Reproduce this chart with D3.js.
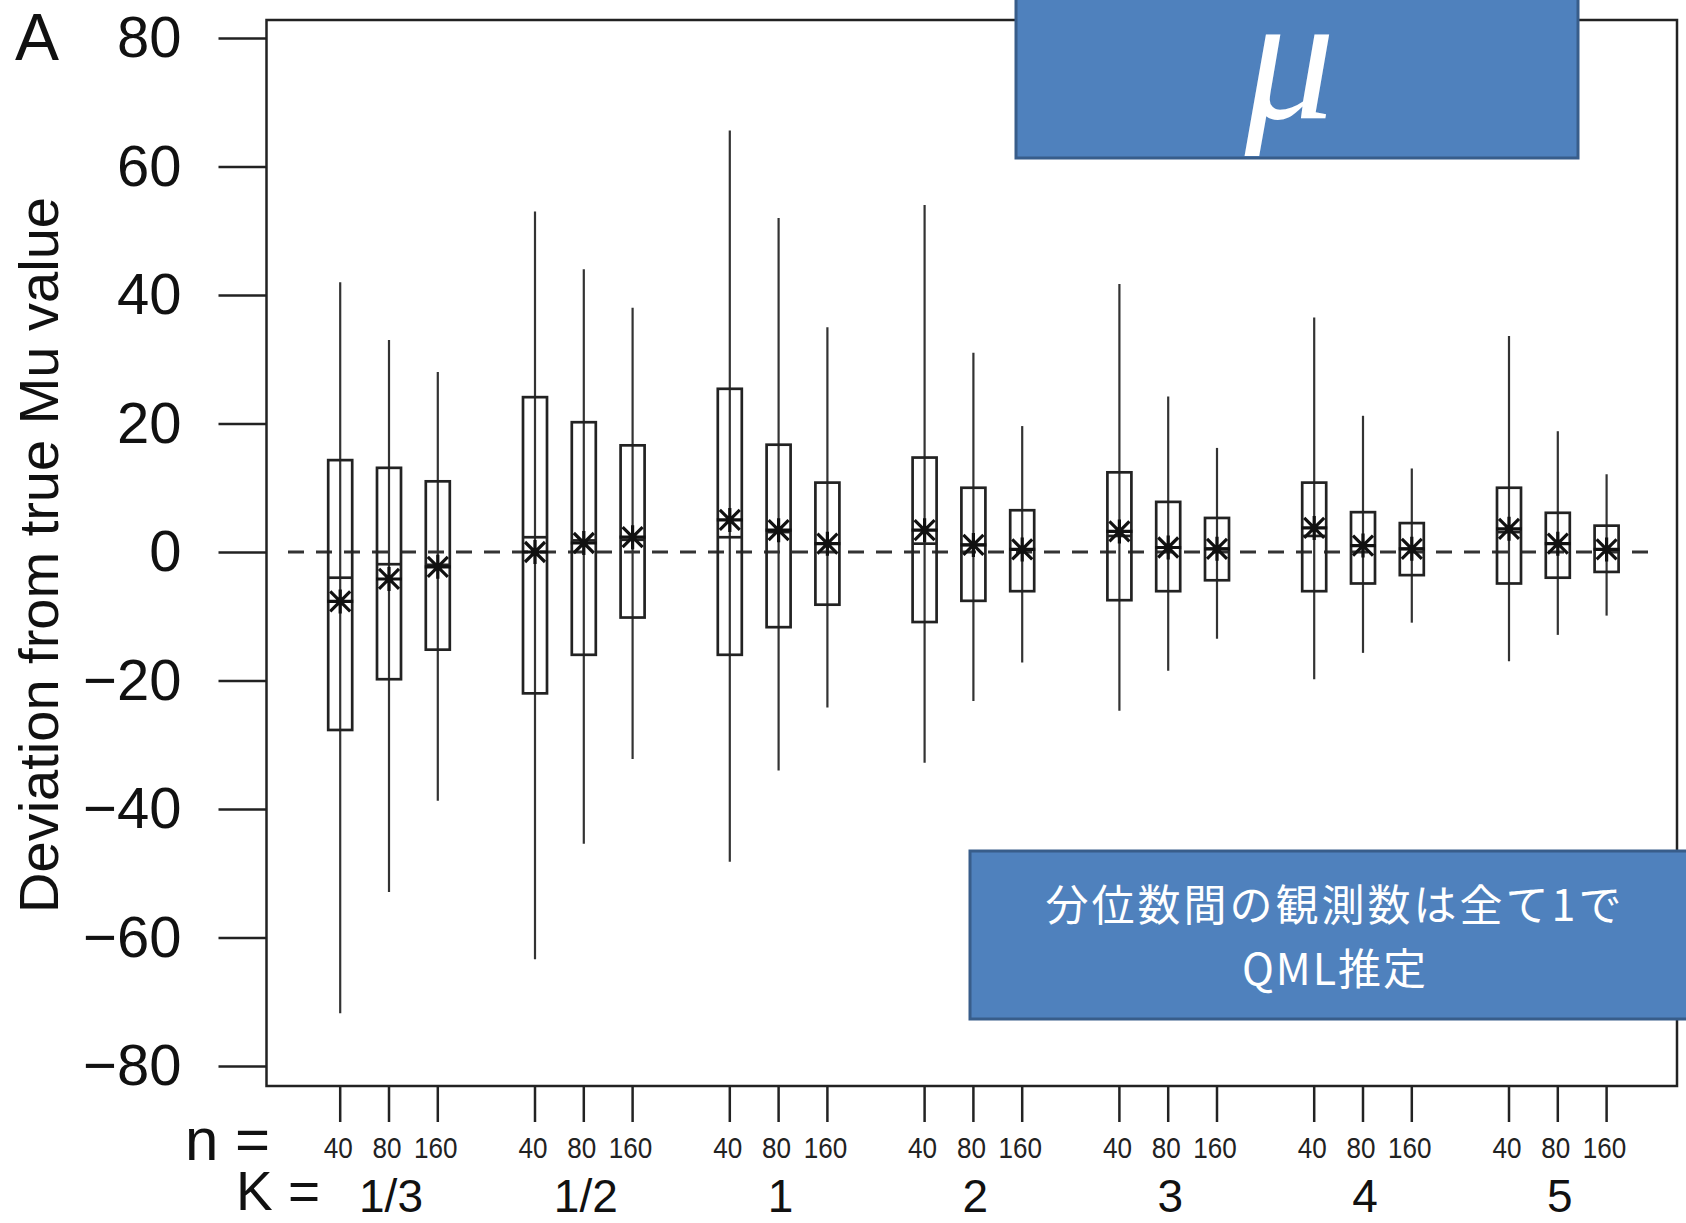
<!DOCTYPE html>
<html>
<head>
<meta charset="utf-8">
<script src="https://cdn.jsdelivr.net/npm/d3@7"></script>
<style>
  body { margin: 0; background: #fff; }
  svg { display: block; }
</style>
</head>
<body>
<div id="chart"></div>
<script>
// box plot of deviation from true Mu, by K and n

const width = 1686;
const height = 1223;

// categories
const kLabels = ["1/3", "1/2", "1", "2", "3", "4", "5"];
const nLabels = ["40", "80", "160"];

// one value per box, K major, n minor
const whiskerHigh = [42, 33, 28, 53, 44, 38, 65.6, 52, 35, 54, 31, 19.6, 41.7, 24.2, 16.2, 36.5, 21.2, 13, 33.6, 18.8, 12.1];
const q3 = [14.3, 13.1, 11, 24.1, 20.2, 16.6, 25.4, 16.7, 10.8, 14.7, 10, 6.5, 12.4, 7.8, 5.3, 10.8, 6.2, 4.5, 10, 6.1, 4.1];
const medians = [-4, -1.9, -2, 2.3, 1.8, 1.9, 2.3, 3.1, 1.3, 1.3, 1.1, 0.4, 2.5, 0.7, 0.5, 2.5, 1, 0.5, 3.1, 1.3, 0.4];
const means = [-7.7, -4.2, -2.3, 0, 1.4, 2.3, 5, 3.4, 1.3, 3.4, 1.1, 0.4, 3.2, 0.7, 0.5, 3.75, 1, 0.5, 3.6, 1.3, 0.4];
const q1 = [-27.7, -19.8, -15.2, -22, -16, -10.2, -16, -11.7, -8.2, -10.9, -7.6, -6.1, -7.5, -6.1, -4.4, -6.1, -4.9, -3.6, -4.9, -4, -3.1];
const whiskerLow = [-71.8, -52.9, -38.7, -63.4, -45.4, -32.2, -48.2, -34, -24.2, -32.8, -23.2, -17.2, -24.7, -18.5, -13.5, -19.8, -15.7, -11, -17, -12.9, -9.9];

// y ticks
const yTicks = [-80, -60, -40, -20, 0, 20, 40, 60, 80];

const plot = {left: 266.5, right: 1677, top: 20, bottom: 1086};
const font = "'Liberation Sans', Arial, Helvetica, sans-serif";

const svg = d3.select("#chart")
  .append("svg")
  .attr("width", width)
  .attr("height", height);

// build rows for boxes
const rows = [];
kLabels.forEach((k, i) => {
  nLabels.forEach((n, j) => {
    const idx = i * 3 + j;
    rows.push({k: k, n: n, hi: whiskerHigh[idx], q3: q3[idx], med: medians[idx],
      mean: means[idx], q1: q1[idx], lo: whiskerLow[idx]});
  });
});

// scales
const xGroup = d3.scaleBand()
  .domain(kLabels)
  .range([291.6, 291.6 + 7 * 194.8]);

const xInner = d3.scalePoint()
  .domain(nLabels)
  .range([-48.8, 48.8]);

const xPos = (d) => xGroup(d.k) + xGroup.bandwidth() / 2 + xInner(d.n);

const y = d3.scaleLinear()
  .domain([-80, 80])
  .range([1066, 38]);

// y axis
const yAxis = svg.append("g")
  .attr("transform", `translate(${plot.left}, 0)`)
  .call(d3.axisLeft(y).tickValues(yTicks).tickSize(48).tickPadding(37)
    .tickFormat(d => d < 0 ? "\u2212" + Math.abs(d) : d));
yAxis.select(".domain").remove();
yAxis.selectAll("line").attr("stroke", "#222").attr("stroke-width", 2.5);
yAxis.selectAll("text")
  .attr("font-size", "58px")
  .attr("font-family", font)
  .attr("fill", "#111");

// x axis ticks (one per box)
const xTicks = svg.append("g");
xTicks.selectAll("line")
  .data(rows)
  .enter()
  .append("line")
    .attr("x1", xPos).attr("x2", xPos)
    .attr("y1", plot.bottom).attr("y2", 1122)
    .attr("stroke", "#222").attr("stroke-width", 2.5);

xTicks.selectAll("text")
  .data(rows)
  .enter()
  .append("text")
    .attr("x", (d) => xPos(d) - 2)
    .attr("y", 1158)
    .attr("text-anchor", "middle")
    .attr("font-size", "30px")
    .attr("font-family", font)
    .attr("textLength", (d) => d.n.length * 14.5)
    .attr("lengthAdjust", "spacingAndGlyphs")
    .attr("fill", "#222")
    .text((d) => d.n);

// K group labels
svg.append("g").selectAll("text")
  .data(kLabels)
  .enter()
  .append("text")
    .attr("x", (d) => xGroup(d) + xGroup.bandwidth() / 2 + 2)
    .attr("y", 1212)
    .attr("text-anchor", "middle")
    .attr("font-size", "46px")
    .attr("font-family", font)
    .attr("fill", "#111")
    .text((d) => d);

svg.append("text")
  .attr("x", 185).attr("y", 1160)
  .attr("font-size", "60px")
  .attr("font-family", font)
  .attr("fill", "#111")
  .text("n =");

svg.append("text")
  .attr("x", 236).attr("y", 1210)
  .attr("font-size", "55px")
  .attr("font-family", font)
  .attr("fill", "#111")
  .text("K =");

// panel letter and y label
svg.append("text")
  .attr("x", 15).attr("y", 60)
  .attr("font-size", "66px")
  .attr("font-family", font)
  .attr("fill", "#111")
  .text("A");

svg.append("text")
  .attr("transform", "translate(58, 555) rotate(-90)")
  .attr("text-anchor", "middle")
  .attr("font-size", "56px")
  .attr("font-family", font)
  .attr("fill", "#111")
  .text("Deviation from true Mu value");

// plot frame
svg.append("rect")
  .attr("x", plot.left).attr("y", plot.top)
  .attr("width", plot.right - plot.left)
  .attr("height", plot.bottom - plot.top)
  .attr("fill", "none")
  .attr("stroke", "#222")
  .attr("stroke-width", 2.5);

// zero reference line
svg.append("line")
  .attr("x1", 288).attr("x2", 1656)
  .attr("y1", y(0)).attr("y2", y(0))
  .attr("stroke", "#333")
  .attr("stroke-width", 3)
  .attr("stroke-dasharray", "16,12");

const boxW = 24;
const boxes = svg.append("g");

// whiskers run straight through the box
boxes.selectAll(".whisker")
  .data(rows)
  .enter()
  .append("line")
    .attr("class", "whisker")
    .attr("x1", xPos).attr("x2", xPos)
    .attr("y1", (d) => y(d.hi)).attr("y2", (d) => y(d.lo))
    .attr("stroke", "#333").attr("stroke-width", 2.2);

boxes.selectAll(".box")
  .data(rows)
  .enter()
  .append("rect")
    .attr("class", "box")
    .attr("x", (d) => xPos(d) - boxW / 2)
    .attr("y", (d) => y(d.q3))
    .attr("width", boxW)
    .attr("height", (d) => y(d.q1) - y(d.q3))
    .attr("fill", "none")
    .attr("stroke", "#222").attr("stroke-width", 2.7);

boxes.selectAll(".med")
  .data(rows)
  .enter()
  .append("line")
    .attr("class", "med")
    .attr("x1", (d) => xPos(d) - boxW / 2).attr("x2", (d) => xPos(d) + boxW / 2)
    .attr("y1", (d) => y(d.med)).attr("y2", (d) => y(d.med))
    .attr("stroke", "#222").attr("stroke-width", 2.7);

// mean marker: asterisk (+ and x)
const mk = boxes.selectAll(".mean")
  .data(rows)
  .enter()
  .append("g")
    .attr("class", "mean")
    .attr("transform", (d) => `translate(${xPos(d)},${y(d.mean)})`);
mk.append("path")
  .attr("d", "M-10,-10L10,10M-10,10L10,-10M-13,0L13,0M0,-12L0,12")
  .attr("stroke", "#111").attr("stroke-width", 3.2).attr("fill", "none");

// title box with mu
svg.append("rect")
  .attr("x", 1016).attr("y", -4)
  .attr("width", 562).attr("height", 162)
  .attr("fill", "#4F81BD")
  .attr("stroke", "#385D8A").attr("stroke-width", 3);

svg.append("text")
  .attr("x", 1290).attr("y", 118)
  .attr("text-anchor", "middle")
  .attr("font-size", "180px")
  .attr("font-style", "italic")
  .attr("font-family", "'Liberation Serif', 'DejaVu Serif', serif")
  .attr("fill", "#fff")
  .text("\u03bc");

// note box
svg.append("rect")
  .attr("x", 970).attr("y", 851)
  .attr("width", 740).attr("height", 168)
  .attr("fill", "#4F81BD")
  .attr("stroke", "#385D8A").attr("stroke-width", 3);

const noteFont = "'Noto Sans CJK JP', 'Noto Sans', sans-serif";
svg.append("text")
  .attr("x", 1335).attr("y", 921)
  .attr("text-anchor", "middle")
  .attr("font-size", "43px")
  .attr("letter-spacing", "3px")
  .attr("font-family", noteFont)
  .attr("fill", "#fff")
  .text("分位数間の観測数は全て1で");
svg.append("text")
  .attr("x", 1335).attr("y", 985)
  .attr("text-anchor", "middle")
  .attr("font-size", "43px")
  .attr("letter-spacing", "2px")
  .attr("font-family", noteFont)
  .attr("fill", "#fff")
  .text("QML推定");
</script>
</body>
</html>
